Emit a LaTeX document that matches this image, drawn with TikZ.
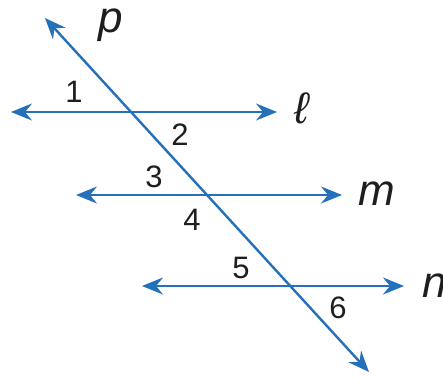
\documentclass[tikz,border=0pt]{standalone}
\usepackage{fontspec}
\setmainfont{Liberation Sans}
\usetikzlibrary{arrows.meta}
\definecolor{lineblue}{RGB}{36,112,186}
\definecolor{labelgray}{RGB}{30,30,30}
\tikzset{
  geoline/.style={draw=lineblue, line width=2.4pt,
    {Stealth[length=21pt,width=17pt,inset=7pt]}-{Stealth[length=21pt,width=17pt,inset=7pt]}},
  anglelbl/.style={inner sep=0pt, anchor=base, text=labelgray, font=\fontsize{31}{31}\selectfont},
  linelbl/.style={inner sep=0pt, anchor=base, text=labelgray, font=\fontsize{44}{44}\selectfont\itshape}
}
\begin{document}
\begin{tikzpicture}[x=1pt,y=-1pt]
\useasboundingbox (0,0) rectangle (443,377);
\clip (0,0) rectangle (443,377);
% end points
\coordinate (pA) at (45,18);
\coordinate (pB) at (369,372);
\coordinate (lA) at (11,112);
\coordinate (lB) at (277,112);
\coordinate (mA) at (76,195);
\coordinate (mB) at (342,195);
\coordinate (nA) at (142,286);
\coordinate (nB) at (404,286);
% lines
\draw[geoline] (lA) -- (lB);
\draw[geoline] (mA) -- (mB);
\draw[geoline] (nA) -- (nB);
\draw[geoline] (pA) -- (pB);
% line labels
\node[linelbl] (lp) at (111,33) {p};
\node[linelbl] (ll) at (302,123) {ℓ};
\node[linelbl] (lm) at (377,205) {m};
\node[linelbl] (ln) at (435,297) {n};
% angle labels
\node[anglelbl] (a1) at (74,102) {1};
\node[anglelbl] (a2) at (180,145) {2};
\node[anglelbl] (a3) at (154,187) {3};
\node[anglelbl] (a4) at (192,230) {4};
\node[anglelbl] (a5) at (241,278) {5};
\node[anglelbl] (a6) at (338,318) {6};
\end{tikzpicture}
\end{document}
